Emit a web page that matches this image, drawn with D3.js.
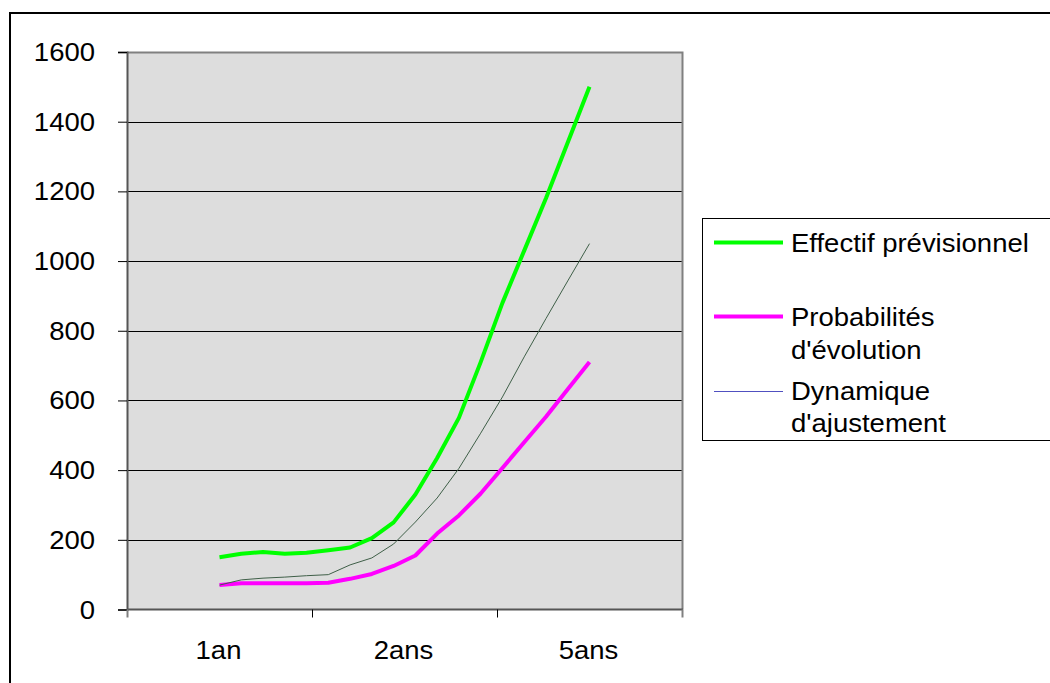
<!DOCTYPE html>
<html>
<head>
<meta charset="utf-8">
<script src="https://cdn.jsdelivr.net/npm/d3@7"></script>
<style>
  html, body { margin: 0; padding: 0; background: #fff; }
  svg { display: block; }
  text { font-family: "Liberation Sans", Arial, sans-serif; fill: #000; }
</style>
</head>
<body>
<svg id="chart" width="1050" height="683"></svg>
<script>
// Axis categories and tick values
const categories = ["1an", "2ans", "5ans"];
const yTicks = [0, 200, 400, 600, 800, 1000, 1200, 1400, 1600];

// Series values (18 points from 1an to 5ans)
const effectifPrevisionnel = [150, 160, 165, 160, 163, 170, 178, 205, 250, 330, 435, 550, 710, 880, 1030, 1180, 1340, 1500];
const probabilitesEvolution = [70, 75, 75, 75, 75, 77, 88, 102, 125, 155, 218, 270, 333, 406, 480, 553, 632, 710];
const dynamiqueAjustement = [70, 85, 90, 93, 97, 100, 128, 148, 188, 251, 320, 405, 506, 610, 725, 835, 943, 1050];

const seriesNames = ["Effectif prévisionnel", "Probabilités\nd'évolution", "Dynamique\nd'ajustement"];

const series = [
  { name: seriesNames[0], values: effectifPrevisionnel, color: "#00ff00", width: 4, legendColor: "#00ff00" },
  { name: seriesNames[1], values: probabilitesEvolution, color: "#ff00ff", width: 4, legendColor: "#ff00ff" },
  { name: seriesNames[2], values: dynamiqueAjustement, color: "#3f5f48", width: 1, legendColor: "#5050c0" }
];

const FONT_SIZE = 25;
const STRETCH = 1.1; // slightly wide lettering

const svg = d3.select("#chart");

// Draw a label at (x, y) with horizontal stretching around its anchor
function label(parent, x, y, str, anchor) {
  return parent.append("text")
    .attr("transform", `translate(${x},${y}) scale(${STRETCH},1)`)
    .attr("text-anchor", anchor || "start")
    .style("font-size", FONT_SIZE + "px")
    .text(str);
}

// Outer frame
svg.append("rect")
  .attr("x", 10).attr("y", 13)
  .attr("width", 1100).attr("height", 1000)
  .attr("fill", "none").attr("stroke", "#000").attr("stroke-width", 2);

const plot = { left: 127, right: 682, top: 52, bottom: 609.5 };

const xBand = d3.scaleBand().domain(categories).range([plot.left, plot.right]).padding(0);
const y = d3.scaleLinear().domain([0, 1600]).range([plot.bottom, plot.top]);

const nPts = effectifPrevisionnel.length;
const xPt = d3.scalePoint()
  .domain(d3.range(nPts))
  .range([xBand(categories[0]) + xBand.bandwidth() / 2, xBand(categories[categories.length - 1]) + xBand.bandwidth() / 2]);

// Plot background
svg.append("rect")
  .attr("x", plot.left).attr("y", plot.top)
  .attr("width", plot.right - plot.left).attr("height", plot.bottom - plot.top)
  .attr("fill", "#dddddd");

// Horizontal gridlines
svg.append("g")
  .selectAll("line")
  .data(yTicks.filter(d => d > 0 && d < 1600))
  .join("line")
  .attr("x1", plot.left).attr("x2", plot.right)
  .attr("y1", d => Math.round(y(d)) + 0.5).attr("y2", d => Math.round(y(d)) + 0.5)
  .attr("stroke", "#000").attr("stroke-width", 1);

// Plot border (top / right)
svg.append("path")
  .attr("d", `M${plot.left},${plot.top + 0.5}H${plot.right + 0.5}V${plot.bottom}`)
  .attr("fill", "none").attr("stroke", "#808080").attr("stroke-width", 2);

// Y axis: line and tick marks from d3, labels stretched
const yAxis = svg.append("g")
  .attr("transform", `translate(${plot.left},0)`)
  .call(d3.axisLeft(y).tickValues(yTicks).tickSize(9).tickFormat(() => ""));
yAxis.select(".domain").attr("stroke", "#555").attr("stroke-width", 2);
yAxis.selectAll(".tick line").attr("stroke", "#000");
const fmt = d3.format("d");
yTicks.forEach(t => {
  label(svg, 95, y(t) + 9, fmt(t), "end");
});

// X axis: tick marks at band boundaries, labels centered in bands
const xg = svg.append("g");
xg.append("line")
  .attr("x1", plot.left).attr("x2", plot.right + 1)
  .attr("y1", plot.bottom).attr("y2", plot.bottom)
  .attr("stroke", "#555").attr("stroke-width", 2);
const boundaries = categories.map(c => xBand(c)).concat([plot.right]);
xg.selectAll("line.tk")
  .data(boundaries)
  .join("line")
  .attr("class", "tk")
  .attr("x1", d => Math.round(d) + 0.5).attr("x2", d => Math.round(d) + 0.5)
  .attr("y1", plot.bottom).attr("y2", plot.bottom + 8)
  .attr("stroke", (d, i) => (i === 0 || i === boundaries.length - 1) ? "#808080" : "#000")
  .attr("stroke-width", (d, i) => (i === 0 || i === boundaries.length - 1) ? 2 : 1);
categories.forEach(c => {
  label(xg, xBand(c) + xBand.bandwidth() / 2 - 1, 659, c, "middle");
});

// Series lines
const line = d3.line()
  .x((d, i) => xPt(i))
  .y(d => y(d));

svg.append("g")
  .selectAll("path")
  .data(series)
  .join("path")
  .attr("d", d => line(d.values))
  .attr("fill", "none")
  .attr("stroke", d => d.color)
  .attr("stroke-width", d => d.width)
  .attr("stroke-linejoin", "round");

// Legend
const legend = svg.append("g");
legend.append("rect")
  .attr("x", 702.5).attr("y", 218.5)
  .attr("width", 400).attr("height", 222)
  .attr("fill", "#fff").attr("stroke", "#000").attr("stroke-width", 1);

const legendRows = [
  { lineY: 242.5, textY: [252] },
  { lineY: 316.5, textY: [326, 359] },
  { lineY: 391.5, textY: [400, 432] }
];

series.forEach((s, i) => {
  const row = legendRows[i];
  legend.append("line")
    .attr("x1", 714).attr("x2", 783)
    .attr("y1", row.lineY).attr("y2", row.lineY)
    .attr("stroke", s.legendColor)
    .attr("stroke-width", s.width);
  s.name.split("\n").forEach((part, j) => {
    label(legend, 791, row.textY[j], part, "start");
  });
});
</script>
</body>
</html>
